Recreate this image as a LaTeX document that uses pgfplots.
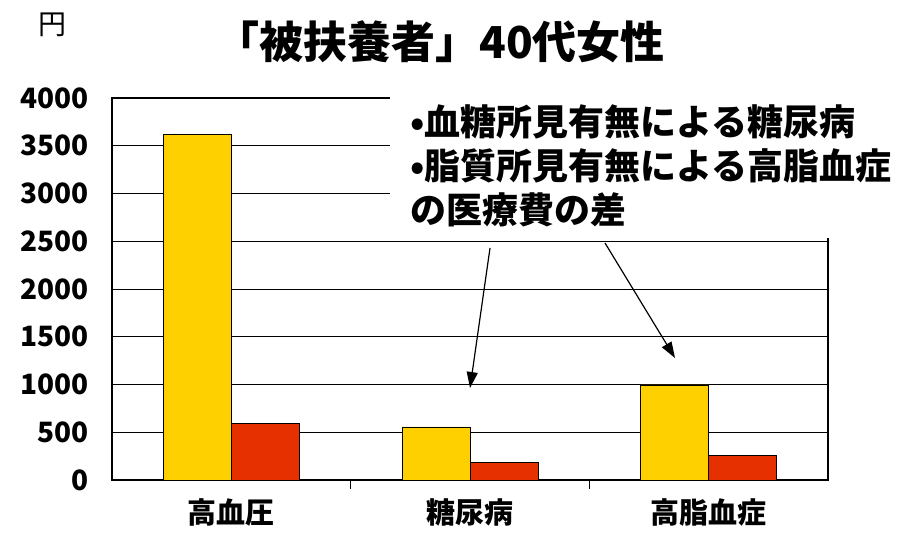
\documentclass[border=0pt]{standalone}
\usepackage{pgfplots}
\pgfplotsset{compat=1.18}
\usepackage{fontspec}
\setmainfont{Noto Sans CJK JP}
\usetikzlibrary{arrows.meta}
\definecolor{barY}{RGB}{255,208,0}
\definecolor{barR}{RGB}{230,48,0}
\begin{document}
\begin{tikzpicture}[x=1pt,y=1pt]
\useasboundingbox (0,0) rectangle (912,535);
\begin{axis}[
    at={(112pt,55pt)}, anchor=south west,
    scale only axis, width=716pt, height=382pt,
    xmin=0, xmax=3, ymin=0, ymax=4000,
    ytick={0,500,...,4000},
    xtick={0.5,1.5,2.5},
    xticklabels={高血圧,糖尿病,高脂血症},
    tick pos=left,
    major tick length=0pt,
    extra x ticks={1,2},
    extra x tick labels={},
    extra x tick style={major tick length=9pt, grid=none},
    tick style={black, line width=0.8pt},
    ymajorgrids, grid style={black, line width=0.8pt},
    axis line style={black, line width=1.3pt},
    ybar=0pt, bar width=68pt,
    /pgf/number format/assume math mode=true,
    /pgf/number format/1000 sep={},
    scaled y ticks=false,
    tick label style={font=\bfseries\fontsize{28}{28}\selectfont},
    yticklabel style={xshift=-20pt},
    xticklabel style={yshift=-15pt, font=\bfseries\fontsize{29}{29}\selectfont},
]
\addplot[fill=barY, draw=black, line width=0.7pt] coordinates {(0.5,3620)(1.5,555)(2.5,995)};
\addplot[fill=barR, draw=black, line width=0.7pt] coordinates {(0.5,595)(1.5,180)(2.5,258)};
\end{axis}
% white box behind the note
\fill[white] (390,297) rectangle (912,445);
\node[font=\fontsize{28}{28}\selectfont] at (52,510) {円};
\node[font=\bfseries\fontsize{44}{44}\selectfont] at (440,493) {「被扶養者」40代女性};
\begin{scope}[font=\bfseries\fontsize{36}{36}\selectfont, inner sep=0pt]
\node[anchor=west] at (410,413) {•血糖所見有無による糖尿病};
\node[anchor=west] at (410,369) {•脂質所見有無による高脂血症};
\node[anchor=west] at (410,325) {の医療費の差};
\end{scope}
\draw[line width=1.2pt, -{Triangle[length=16pt,width=11pt]}] (490,287) -- (470,147);
\draw[line width=1.2pt, -{Triangle[length=16pt,width=11pt]}] (605,292) -- (675,177);
\end{tikzpicture}
\end{document}
